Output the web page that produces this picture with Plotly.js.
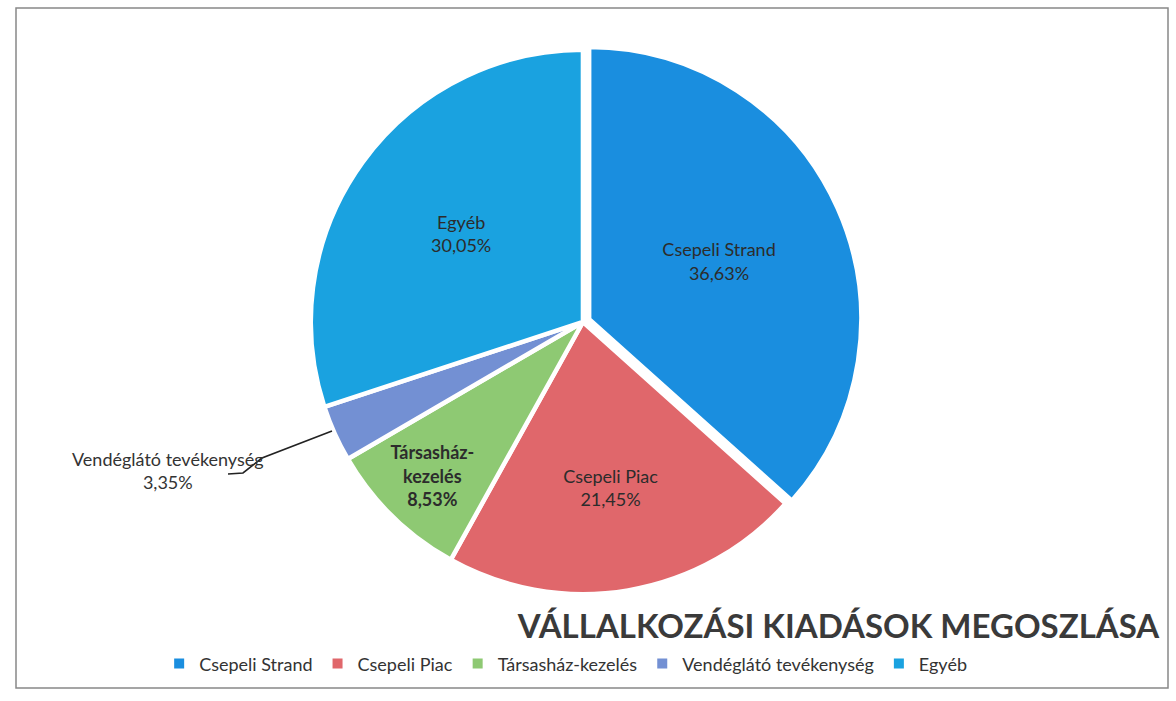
<!DOCTYPE html>
<html>
<head>
<meta charset="utf-8">
<script src="https://cdn.plot.ly/plotly-3.0.1.min.js"></script>
<style>html,body{margin:0;padding:0;background:#fff}#chart{width:1176px;height:701px}</style>
</head>
<body>
<div id="chart"></div>
<script>
const categories = ['Csepeli Strand', 'Csepeli Piac', 'Társasház-kezelés', 'Vendéglátó tevékenység', 'Egyéb'];
const sliceLabels = ['Csepeli Strand', 'Csepeli Piac', '<b>Társasház-<br>kezelés</b>', '', 'Egyéb'];
const shares = [36.63, 21.45, 8.53, 3.35, 30.05];
const colors = ['#1a8edf', '#e0676b', '#8ec973', '#7390d3', '#1aa2e0'];
const pulls = [0.025, 0, 0, 0, 0];
const textPos = ['inside', 'inside', 'inside', 'none', 'inside'];
const titleText = 'VÁLLALKOZÁSI KIADÁSOK MEGOSZLÁSA';
const outsideLabel = 'Vendéglátó tevékenység<br>3,35%';

const W = 1176, H = 701;
function px(x) { return x / W; }
function py(y) { return 1 - y / H; }

const trace = {
  type: 'pie',
  labels: categories,
  values: shares,
  text: sliceLabels,
  texttemplate: categories.map((c, i) => i === 2 ? '%{text}<br><b>%{value:.2f}%</b>' : '%{text}<br>%{value:.2f}%'),
  textposition: textPos,
  insidetextorientation: 'horizontal',
  textfont: {family: 'Lato, sans-serif', size: 18, color: '#2c2c2c'},
  sort: false,
  direction: 'clockwise',
  rotation: 0,
  pull: pulls,
  marker: {colors: colors, line: {color: '#ffffff', width: 4.5}},
  domain: {x: [0.2585, 0.7329], y: [0.1427, 0.9387]},
  hoverinfo: 'label+percent'
};

const leader = 'M' + px(332) + ',' + py(431) + ' L' + px(262) + ',' + py(458) +
               ' L' + px(243) + ',' + py(473) + ' L' + px(228) + ',' + py(474);

const layout = {
  width: W, height: H,
  margin: {l: 0, r: 0, t: 0, b: 0},
  paper_bgcolor: '#ffffff',
  separators: ', ',
  font: {family: 'Lato, sans-serif', color: '#333'},
  title: {
    text: '<b>' + titleText + '</b>',
    font: {family: 'Lato, sans-serif', size: 33, color: '#3a3a3a'},
    x: 0.713, xref: 'paper', xanchor: 'center',
    y: 0.106, yref: 'paper', yanchor: 'middle'
  },
  showlegend: true,
  legend: {
    orientation: 'h',
    x: 0.481, xanchor: 'center',
    y: 0.053, yanchor: 'middle',
    font: {family: 'Lato, sans-serif', size: 18, color: '#333'},
    traceorder: 'normal'
  },
  annotations: [{
    text: outsideLabel,
    xref: 'paper', yref: 'paper',
    x: px(168), y: py(470), xanchor: 'center', yanchor: 'middle',
    showarrow: false,
    font: {family: 'Lato, sans-serif', size: 18, color: '#333'},
    align: 'center'
  }],
  shapes: [{
    type: 'rect', xref: 'paper', yref: 'paper',
    x0: px(16), x1: px(1168), y0: py(688), y1: py(8),
    line: {color: '#888', width: 1.5}, fillcolor: 'rgba(0,0,0,0)', layer: 'below'
  }, {
    type: 'path', xref: 'paper', yref: 'paper', path: leader,
    line: {color: '#222', width: 1.6}
  }]
};

Plotly.newPlot('chart', [trace], layout, {displayModeBar: false, staticPlot: true}).then(function () {
  document.querySelectorAll('.legend .legendpoints path').forEach(function (p) {
    p.style.strokeWidth = '0px';
    p.setAttribute('d', 'M5,5H-5V-5H5Z');
  });
});
</script>
</body>
</html>
